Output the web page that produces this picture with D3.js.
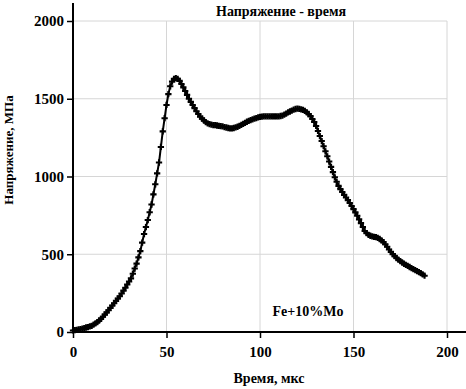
<!DOCTYPE html>
<html lang="ru">
<head>
<meta charset="UTF-8">
<script src="https://d3js.org/d3.v7.min.js"></script>
<style>
  body { margin: 0; background: #fff; }
  text { font-family: "Liberation Serif", "Times New Roman", serif; font-weight: bold; fill: #000; }
</style>
</head>
<body>
<svg id="chart" width="466" height="389"></svg>
<script>
// время, мкс (шаг 1 мкс от 0)
var timeStep = 1;
// напряжение, МПа
var stress = [
  10, 12, 14, 16, 19, 22, 25, 29, 32, 36,
  40, 47, 55, 64, 74, 85, 98, 112, 126, 140,
  155, 170, 185, 200, 215, 230, 248, 266, 285, 305,
  325, 345, 375, 408, 440, 480, 520, 575, 630, 675,
  720, 770, 820, 885, 950, 1020, 1090, 1190, 1290, 1375,
  1460, 1530, 1580, 1610, 1628, 1632, 1628, 1615, 1595, 1573,
  1550, 1525, 1500, 1480, 1460, 1440, 1420, 1402, 1385, 1372,
  1360, 1350, 1342, 1337, 1333, 1331, 1330, 1328, 1326, 1324,
  1322, 1318, 1315, 1312, 1310, 1310, 1312, 1316, 1320, 1326,
  1332, 1338, 1345, 1352, 1358, 1363, 1368, 1372, 1376, 1380,
  1383, 1385, 1386, 1387, 1387, 1386, 1386, 1386, 1386, 1386,
  1387, 1389, 1392, 1398, 1405, 1412, 1418, 1424, 1430, 1434,
  1436, 1435, 1432, 1428, 1422, 1413, 1402, 1388, 1370, 1350,
  1325, 1293, 1260, 1228, 1195, 1162, 1130, 1096, 1062, 1028,
  995, 966, 940, 919, 900, 882, 865, 848, 830, 810,
  790, 769, 748, 724, 700, 675, 650, 636, 625, 619,
  615, 612, 610, 605, 598, 589, 578, 564, 548, 531,
  515, 501, 488, 476, 465, 456, 447, 439, 432, 425,
  418, 411, 405, 398, 392, 385, 378, 370, 362
];
var xTicks = [0, 50, 100, 150, 200];
var yTicks = [0, 500, 1000, 1500, 2000];

var points = stress.map(function (v, i) { return { t: i * timeStep, v: v }; });

var svg = d3.select("#chart");

var x = d3.scaleLinear().domain([0, 200]).range([73, 447]);
var y = d3.scaleLinear().domain([0, 2000]).range([332, 21]);

// сетка
svg.append("g").selectAll("line")
  .data(xTicks.slice(1))
  .enter().append("line")
  .attr("x1", function (d) { return x(d); })
  .attr("x2", function (d) { return x(d); })
  .attr("y1", y(2000))
  .attr("y2", y(0))
  .attr("stroke", "#d6d6d6")
  .attr("stroke-width", 1);

svg.append("g").selectAll("line")
  .data(yTicks.slice(1))
  .enter().append("line")
  .attr("x1", x(0))
  .attr("x2", x(200))
  .attr("y1", function (d) { return y(d); })
  .attr("y2", function (d) { return y(d); })
  .attr("stroke", "#d6d6d6")
  .attr("stroke-width", 1);

// оси
var axisY = d3.axisLeft(y).tickValues(yTicks).tickSize(6).tickPadding(3).tickFormat(d3.format("d"));
var gy = svg.append("g").attr("transform", "translate(" + x(0) + ",0)").call(axisY);
gy.select(".domain").remove();
gy.selectAll("line").attr("stroke", "#000").attr("stroke-width", 1.5);
gy.selectAll("text").style("font-size", "15px").style("font-family", "Liberation Serif").style("font-weight", "bold");

var axisX = d3.axisBottom(x).tickValues(xTicks).tickSize(6).tickPadding(8).tickFormat(d3.format("d"));
var gx = svg.append("g").attr("transform", "translate(0," + y(0) + ")").call(axisX);
gx.select(".domain").remove();
gx.selectAll("line").attr("stroke", "#000").attr("stroke-width", 1.5);
gx.selectAll("text").style("font-size", "15px").style("font-family", "Liberation Serif").style("font-weight", "bold");

svg.append("line")
  .attr("x1", x(0)).attr("x2", x(0))
  .attr("y1", 3).attr("y2", y(0) + 1)
  .attr("stroke", "#000").attr("stroke-width", 2);
svg.append("line")
  .attr("x1", x(0) - 1).attr("x2", 466)
  .attr("y1", y(0)).attr("y2", y(0))
  .attr("stroke", "#000").attr("stroke-width", 2);

// кривая
var line = d3.line()
  .x(function (d) { return x(d.t); })
  .y(function (d) { return y(d.v); });

svg.append("path")
  .datum(points)
  .attr("d", line)
  .attr("fill", "none")
  .attr("stroke", "#000")
  .attr("stroke-width", 2);

svg.append("g").selectAll("path")
  .data(points)
  .enter().append("path")
  .attr("transform", function (d) { return "translate(" + x(d.t) + "," + y(d.v) + ")"; })
  .attr("d", d3.symbol().type(d3.symbolCross).size(22))
  .attr("fill", "#000");

// подписи
svg.append("text")
  .attr("x", 281).attr("y", 16)
  .attr("text-anchor", "middle")
  .style("font-size", "14px")
  .text("Напряжение - время");

svg.append("text")
  .attr("transform", "translate(13,150) rotate(-90)")
  .attr("text-anchor", "middle")
  .style("font-size", "13px")
  .text("Напряжение, МПа");

svg.append("text")
  .attr("x", 269).attr("y", 383)
  .attr("text-anchor", "middle")
  .style("font-size", "14px")
  .text("Время, мкс");

svg.append("text")
  .attr("x", 308).attr("y", 316)
  .attr("text-anchor", "middle")
  .style("font-size", "14px")
  .text("Fe+10%Mo");
</script>
</body>
</html>
